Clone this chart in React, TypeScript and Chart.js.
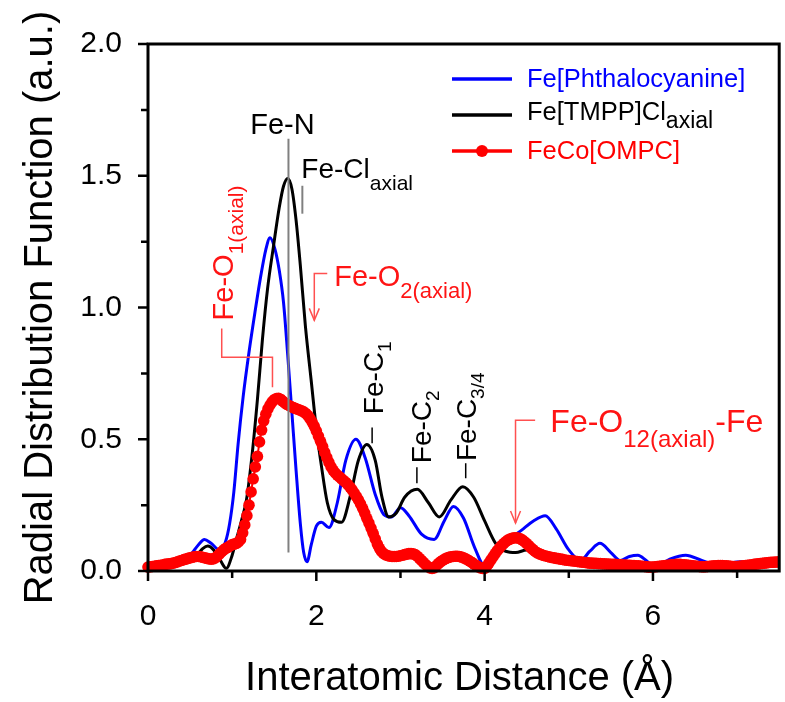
import React, { useEffect, useRef } from "react";
import { Chart, registerables } from "chart.js";

Chart.register(...registerables);

const FONT = '"Liberation Sans", Arial, Helvetica, sans-serif';

// ---------------- data ----------------
const blueX = [0, 0.15, 0.26, 0.4, 0.5, 0.6, 0.67, 0.75, 0.85, 0.92, 0.97, 1.02, 1.07, 1.13, 1.2, 1.27, 1.34, 1.4, 1.45, 1.51, 1.56, 1.61, 1.66, 1.71, 1.76, 1.81, 1.85, 1.89, 1.94, 2.0, 2.06, 2.15, 2.25, 2.35, 2.47, 2.58, 2.7, 2.8, 2.89, 3.0, 3.1, 3.25, 3.4, 3.52, 3.63, 3.75, 3.88, 4.01, 4.15, 4.3, 4.44, 4.58, 4.72, 4.85, 5.0, 5.14, 5.25, 5.37, 5.5, 5.61, 5.72, 5.82, 5.92, 6.02, 6.2, 6.39, 6.58, 6.77, 6.9, 7.04, 7.2, 7.35, 7.5];
const blueY = [0.01, 0.025, 0.035, 0.045, 0.06, 0.1, 0.12, 0.105, 0.08, 0.11, 0.18, 0.3, 0.48, 0.66, 0.83, 0.98, 1.12, 1.22, 1.265, 1.22, 1.14, 1.02, 0.82, 0.6, 0.38, 0.18, 0.07, 0.035, 0.1, 0.17, 0.185, 0.165, 0.26, 0.42, 0.5, 0.43, 0.29, 0.215, 0.205, 0.24, 0.21, 0.14, 0.12, 0.19, 0.245, 0.2, 0.09, 0.015, 0.06, 0.12, 0.155, 0.19, 0.21, 0.16, 0.08, 0.04, 0.075, 0.105, 0.07, 0.04, 0.055, 0.06, 0.04, 0.015, 0.045, 0.06, 0.04, 0.023, 0.03, 0.035, 0.03, 0.025, 0.03];

const blackX = [0, 0.2, 0.35, 0.5, 0.58, 0.65, 0.71, 0.78, 0.86, 0.93, 1.0, 1.05, 1.11, 1.17, 1.24, 1.3, 1.36, 1.42, 1.49, 1.56, 1.61, 1.66, 1.71, 1.76, 1.81, 1.87, 1.94, 2.0, 2.06, 2.13, 2.21, 2.3, 2.4, 2.5, 2.6, 2.7, 2.78, 2.86, 2.95, 3.05, 3.2, 3.33, 3.46, 3.6, 3.74, 3.87, 4.0, 4.13, 4.25, 4.37, 4.5, 4.62, 4.75, 4.9, 5.1, 5.4, 5.8, 6.2, 6.6, 6.8, 7.0, 7.5];
const blackY = [0.01, 0.015, 0.025, 0.045, 0.06, 0.085, 0.095, 0.08, 0.04, 0.01, 0.06, 0.12, 0.19, 0.27, 0.45, 0.65, 0.88, 1.07, 1.23, 1.38, 1.46, 1.49, 1.45, 1.33, 1.16, 0.93, 0.72, 0.54, 0.4, 0.26, 0.195, 0.185, 0.28, 0.42, 0.48, 0.42, 0.28, 0.205, 0.22, 0.28, 0.31, 0.26, 0.205, 0.27, 0.32, 0.28, 0.19, 0.105, 0.075, 0.07, 0.08, 0.07, 0.05, 0.035, 0.03, 0.025, 0.02, 0.025, 0.03, 0.03, 0.02, 0.02];

// FeCo[OMPC] sampled every 0.025 Å from 0 to 7.5 Å
const RED_START = 0;
const RED_STEP = 0.025;
const redY = [
  0.015, 0.016, 0.017, 0.018, 0.02, 0.021, 0.022, 0.023, 0.025, 0.026, 0.027, 0.028, 0.03, 0.032, 0.035, 0.038, 0.04, 0.043, 0.045, 0.048,
  0.05, 0.052, 0.054, 0.055, 0.055, 0.054, 0.052, 0.05, 0.048, 0.046, 0.045, 0.046, 0.05, 0.057, 0.065, 0.073, 0.08, 0.086, 0.09, 0.095,
  0.1, 0.102, 0.105, 0.11, 0.12, 0.145, 0.175, 0.21, 0.25, 0.3, 0.35, 0.395, 0.435, 0.49, 0.535, 0.57, 0.595, 0.615, 0.63, 0.642,
  0.65, 0.654, 0.655, 0.652, 0.645, 0.638, 0.632, 0.628, 0.624, 0.62, 0.617, 0.614, 0.611, 0.608, 0.604, 0.598, 0.59, 0.578, 0.565, 0.55,
  0.532, 0.512, 0.492, 0.472, 0.45, 0.43, 0.412, 0.395, 0.382, 0.372, 0.364, 0.357, 0.35, 0.343, 0.336, 0.328, 0.318, 0.308, 0.296, 0.283,
  0.27, 0.255, 0.238, 0.22, 0.2, 0.182, 0.163, 0.143, 0.122, 0.102, 0.086, 0.074, 0.066, 0.061, 0.058, 0.056, 0.055, 0.055, 0.055, 0.056,
  0.058, 0.06, 0.062, 0.064, 0.066, 0.066, 0.065, 0.062, 0.056, 0.048, 0.04, 0.032, 0.024, 0.017, 0.012, 0.01, 0.012, 0.02, 0.028, 0.035,
  0.04, 0.045, 0.049, 0.052, 0.054, 0.055, 0.056, 0.056, 0.055, 0.053, 0.05, 0.046, 0.042, 0.037, 0.032, 0.026, 0.021, 0.016, 0.012, 0.01,
  0.01, 0.018, 0.03, 0.042, 0.054, 0.066, 0.077, 0.087, 0.096, 0.104, 0.111, 0.117, 0.121, 0.124, 0.126, 0.126, 0.125, 0.122, 0.117, 0.111,
  0.104, 0.096, 0.088, 0.081, 0.074, 0.069, 0.065, 0.062, 0.059, 0.057, 0.055, 0.053, 0.051, 0.05, 0.048, 0.047, 0.045, 0.044, 0.042, 0.041,
  0.04, 0.039, 0.038, 0.037, 0.036, 0.035, 0.034, 0.033, 0.032, 0.031, 0.03, 0.03, 0.029, 0.029, 0.028, 0.028, 0.027, 0.027, 0.026, 0.026,
  0.025, 0.025, 0.025, 0.024, 0.024, 0.024, 0.023, 0.023, 0.022, 0.022, 0.021, 0.021, 0.02, 0.02, 0.019, 0.018, 0.017, 0.016, 0.015, 0.015,
  0.015, 0.016, 0.017, 0.018, 0.019, 0.02, 0.021, 0.022, 0.023, 0.024, 0.024, 0.025, 0.025, 0.025, 0.024, 0.024, 0.023, 0.022, 0.021, 0.02,
  0.019, 0.018, 0.017, 0.016, 0.016, 0.016, 0.017, 0.018, 0.019, 0.02, 0.02, 0.021, 0.021, 0.021, 0.02, 0.02, 0.019, 0.018, 0.017, 0.017,
  0.017, 0.018, 0.019, 0.02, 0.021, 0.022, 0.023, 0.024, 0.025, 0.026, 0.027, 0.028, 0.029, 0.03, 0.031, 0.032, 0.033, 0.033, 0.034, 0.034,
  0.035,
];
const redX = redY.map((_, i) => +(RED_START + i * RED_STEP).toFixed(3));

const seriesNames = ["Fe[Phthalocyanine]", "Fe[TMPP]Cl", "FeCo[OMPC]"];
const xMajorTicks = [0, 2, 4, 6];
const xMinorTicks = [1, 3, 5, 7];
const yMajorTicks = [0, 0.5, 1.0, 1.5, 2.0];
const yMinorTicks = [0.25, 0.75, 1.25, 1.75];

// ---------------- helpers ----------------
type Part = { t: string; sub?: boolean };

function drawRich(
  ctx: CanvasRenderingContext2D,
  parts: Part[],
  x: number,
  y: number,
  size: number,
  subSize: number,
  subShift: number,
  color: string,
  rotate = false,
  align: "left" | "center" = "left"
) {
  ctx.save();
  ctx.translate(x, y);
  if (rotate) ctx.rotate(-Math.PI / 2);
  ctx.fillStyle = color;
  ctx.textBaseline = "alphabetic";
  ctx.textAlign = "left";
  const widths = parts.map((p) => {
    ctx.font = `${p.sub ? subSize : size}px ${FONT}`;
    return ctx.measureText(p.t).width;
  });
  const total = widths.reduce((a, b) => a + b, 0);
  let cx = align === "center" ? -total / 2 : 0;
  parts.forEach((p, i) => {
    ctx.font = `${p.sub ? subSize : size}px ${FONT}`;
    ctx.fillText(p.t, cx, p.sub ? subShift : 0);
    cx += widths[i];
  });
  ctx.restore();
}

function poly(ctx: CanvasRenderingContext2D, pts: number[][], color: string, w: number) {
  ctx.save();
  ctx.strokeStyle = color;
  ctx.lineWidth = w;
  ctx.beginPath();
  pts.forEach((p, i) => (i === 0 ? ctx.moveTo(p[0], p[1]) : ctx.lineTo(p[0], p[1])));
  ctx.stroke();
  ctx.restore();
}

function arrowDown(ctx: CanvasRenderingContext2D, x: number, y: number, color: string) {
  poly(ctx, [[x - 5, y - 12], [x, y], [x + 5, y - 12]], color, 1.5);
}

const RED_TXT = "#ff1414";
const RED_LN = "#ff5050";
const GREY = "#808080";

const decor = {
  id: "decor",
  afterDatasetsDraw(chart: any) {
    const ctx: CanvasRenderingContext2D = chart.ctx;
    const xs = chart.scales.x;
    const ys = chart.scales.y;
    const px = (v: number) => xs.getPixelForValue(v);
    const py = (v: number) => ys.getPixelForValue(v);

    // Fe-N marker line and label
    poly(ctx, [[px(1.669), py(0.07)], [px(1.669), py(1.64)]], GREY, 2);
    drawRich(ctx, [{ t: "Fe-N" }], px(1.598), py(1.659), 29, 20, 10, "#000", false, "center");
    // Fe-Cl axial
    poly(ctx, [[px(1.834), py(1.356)], [px(1.834), py(1.462)]], GREY, 2);
    drawRich(ctx, [{ t: "Fe-Cl" }, { t: "axial", sub: true }], px(1.822), py(1.492), 28, 21, 12, "#000");

    // Fe-O1(axial)
    drawRich(ctx, [{ t: "Fe-O" }, { t: "1(axial)", sub: true }], px(1.006), py(0.951), 29, 21, 10, RED_TXT, true);
    poly(ctx, [[px(0.876), py(0.92)], [px(0.876), py(0.811)], [px(1.479), py(0.811)], [px(1.479), py(0.697)]], RED_LN, 1.5);

    // Fe-O2(axial)
    drawRich(ctx, [{ t: "Fe-O" }, { t: "2(axial)", sub: true }], px(2.213), py(1.083), 29, 22, 12, RED_TXT);
    poly(ctx, [[px(2.13), py(1.129)], [px(1.976), py(1.129)], [px(1.976), py(0.951)]], RED_LN, 1.5);
    arrowDown(ctx, px(1.976), py(0.951), RED_LN);

    // Fe-O12(axial)-Fe
    drawRich(ctx, [{ t: "Fe-O" }, { t: "12(axial)", sub: true }, { t: "-Fe" }], px(4.781), py(0.5265), 32, 24, 15, RED_TXT);
    poly(ctx, [[px(4.6), py(0.572)], [px(4.367), py(0.572)], [px(4.367), py(0.182)]], RED_LN, 1.5);
    arrowDown(ctx, px(4.367), py(0.182), RED_LN);

    // Fe-C labels
    poly(ctx, [[px(2.663), py(0.485)], [px(2.663), py(0.545)]], "#000", 1.5);
    drawRich(ctx, [{ t: "Fe-C" }, { t: "1", sub: true }], px(2.793), py(0.595), 28, 19, 8, "#000", true);
    poly(ctx, [[px(3.195), py(0.333)], [px(3.195), py(0.394)]], "#000", 1.5);
    drawRich(ctx, [{ t: "Fe-C" }, { t: "2", sub: true }], px(3.361), py(0.409), 28, 19, 8, "#000", true);
    poly(ctx, [[px(3.775), py(0.352)], [px(3.775), py(0.409)]], "#000", 1.5);
    drawRich(ctx, [{ t: "Fe-C" }, { t: "3/4", sub: true }], px(3.893), py(0.417), 28, 19, 8, "#000", true);
  },
  afterDraw(chart: any) {
    const ctx: CanvasRenderingContext2D = chart.ctx;
    const a = chart.chartArea;
    const xs = chart.scales.x;
    const ys = chart.scales.y;
    ctx.save();
    ctx.strokeStyle = "#000";
    ctx.lineWidth = 2.5;
    ctx.beginPath();
    xMajorTicks.forEach((v) => { const p = xs.getPixelForValue(v); ctx.moveTo(p, a.bottom); ctx.lineTo(p, a.bottom + 10); });
    xMinorTicks.forEach((v) => { const p = xs.getPixelForValue(v); ctx.moveTo(p, a.bottom); ctx.lineTo(p, a.bottom + 7); });
    yMajorTicks.forEach((v) => { const p = ys.getPixelForValue(v); ctx.moveTo(a.left, p); ctx.lineTo(a.left - 10, p); });
    yMinorTicks.forEach((v) => { const p = ys.getPixelForValue(v); ctx.moveTo(a.left, p); ctx.lineTo(a.left - 7, p); });
    ctx.stroke();
    ctx.lineWidth = 3;
    ctx.strokeRect(a.left, a.top, a.right - a.left, a.bottom - a.top);
    ctx.restore();

    // axis titles
    ctx.save();
    ctx.fillStyle = "#000";
    ctx.font = `40px ${FONT}`;
    ctx.textAlign = "center";
    ctx.textBaseline = "alphabetic";
    ctx.fillText("Interatomic Distance (\u00C5)", (a.left + a.right) / 2 - 4, 690);
    ctx.translate(52, (a.top + a.bottom) / 2);
    ctx.rotate(-Math.PI / 2);
    ctx.fillText("Radial Distribution Function (a.u.)", 0, 0);
    ctx.restore();

    // legend
    const lx1 = a.left + 304;
    const lx2 = a.left + 364;
    const tx = a.left + 379;
    const l0 = a.top + 35;
    const gap = 36;
    poly(ctx, [[lx1, l0], [lx2, l0]], "#0000ff", 3.5);
    drawRich(ctx, [{ t: seriesNames[0] }], tx, l0 + 8, 25.5, 20, 8, "#0000ff");
    poly(ctx, [[lx1, l0 + gap], [lx2, l0 + gap]], "#000", 3.5);
    drawRich(ctx, [{ t: seriesNames[1] }, { t: "axial", sub: true }], tx, l0 + gap + 5, 25.5, 23, 8, "#000");
    poly(ctx, [[lx1, l0 + 2 * gap], [lx2, l0 + 2 * gap]], "#ff0000", 3.5);
    ctx.save();
    ctx.fillStyle = "#ff0000";
    ctx.beginPath();
    ctx.arc((lx1 + lx2) / 2, l0 + 2 * gap, 6, 0, Math.PI * 2);
    ctx.fill();
    ctx.restore();
    drawRich(ctx, [{ t: seriesNames[2] }], tx, l0 + 2 * gap + 8, 25.5, 20, 8, "#ff0000");
  },
};

export default function App() {
  const ref = useRef<HTMLCanvasElement>(null);
  useEffect(() => {
    const prev = document.body.style.margin;
    document.body.style.margin = "0";
    const canvas = ref.current!;
    const chart = new Chart(canvas, {
      type: "line",
      data: {
        datasets: [
          {
            label: seriesNames[2],
            data: redX.map((x, i) => ({ x, y: redY[i] })),
            borderColor: "#ff0000",
            backgroundColor: "#ff0000",
            borderWidth: 2,
            pointRadius: 5.8,
            pointBorderWidth: 0,
            pointBackgroundColor: "#ff0000",
            tension: 0,
            order: 0,
            clip: { left: 8, top: 0, right: 0, bottom: 8 },
          },
          {
            label: seriesNames[1],
            data: blackX.map((x, i) => ({ x, y: blackY[i] })),
            borderColor: "#000000",
            borderWidth: 3,
            pointRadius: 0,
            cubicInterpolationMode: "monotone",
            order: 1,
          },
          {
            label: seriesNames[0],
            data: blueX.map((x, i) => ({ x, y: blueY[i] })),
            borderColor: "#0000ff",
            borderWidth: 3,
            pointRadius: 0,
            cubicInterpolationMode: "monotone",
            order: 2,
          },
        ] as any,
      },
      options: {
        responsive: false,
        animation: false,
        devicePixelRatio: 1,
        layout: { padding: { top: 44, right: 3, left: 0, bottom: 0 } },
        plugins: { legend: { display: false }, tooltip: { enabled: false }, title: { display: false } },
        scales: {
          x: {
            type: "linear",
            min: 0,
            max: 7.5,
            afterBuildTicks: (s: any) => { s.ticks = xMajorTicks.map((v) => ({ value: v })); },
            afterFit: (s: any) => { s.height = 131; },
            ticks: {
              font: { family: FONT, size: 30 },
              color: "#000",
              padding: 28,
              maxRotation: 0,
              autoSkip: false,
              callback: (v: any) => String(v),
            },
            grid: { display: false, drawTicks: false },
            border: { display: false },
          },
          y: {
            type: "linear",
            min: 0,
            max: 2,
            afterBuildTicks: (s: any) => { s.ticks = yMajorTicks.map((v) => ({ value: v })); },
            afterFit: (s: any) => { s.width = 148; },
            ticks: {
              font: { family: FONT, size: 30 },
              color: "#000",
              padding: 26,
              autoSkip: false,
              callback: (v: any) => Number(v).toFixed(1),
            },
            grid: { display: false, drawTicks: false },
            border: { display: false },
          },
        },
      } as any,
      plugins: [decor],
    });
    return () => {
      chart.destroy();
      document.body.style.margin = prev;
    };
  }, []);
  return (
    <div style={{ position: "relative", width: 785, height: 702, background: "#fff" }}>
      <canvas ref={ref} width={785} height={702} style={{ display: "block", width: 785, height: 702 }} />
    </div>
  );
}
